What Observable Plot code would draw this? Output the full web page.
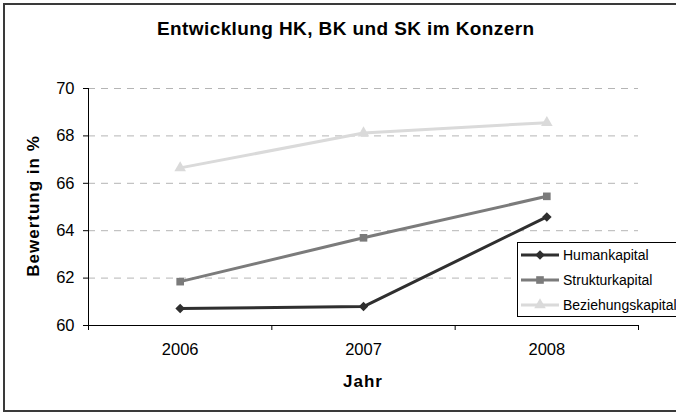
<!DOCTYPE html>
<html>
<head>
<meta charset="utf-8">
<script src="https://cdn.jsdelivr.net/npm/d3@7"></script>
<script src="https://cdn.jsdelivr.net/npm/@observablehq/plot@0.6"></script>
<style>
  html, body { margin: 0; padding: 0; background: #fff; }
  body { width: 676px; height: 412px; overflow: hidden; position: relative; font-family: "Liberation Sans", Arial, sans-serif; }
  #chart { position: absolute; left: 0; top: 0; }
  .frame { position: absolute; left: 3px; top: 3px; width: 740px; height: 409px; box-sizing: border-box; border: 2px solid #3a3a3a; pointer-events: none; }
  .title { position: absolute; left: 157px; top: 19px; font-size: 19px; font-weight: bold; white-space: nowrap; letter-spacing: 0.4px; line-height: 20px; }
  .xlabel { position: absolute; left: 0; width: 726px; top: 372px; text-align: center; font-size: 17px; font-weight: bold; letter-spacing: 1px; line-height: 20px; }
  .ylabel { position: absolute; left: 34px; top: 206px; font-size: 17px; font-weight: bold; white-space: nowrap; letter-spacing: 1px; line-height: 20px; transform: translate(-50%, -50%) rotate(-90deg); transform-origin: center; }
  .legend { position: absolute; left: 517px; top: 242px; width: 200px; height: 75px; box-sizing: border-box; border: 1px solid #000; background: #fff; }
  .legend .row { position: absolute; left: 0; height: 20px; display: flex; align-items: center; font-size: 14px; white-space: nowrap; }
  .legend .row svg { margin-left: 3px; margin-right: 4px; }
</style>
</head>
<body>
<div id="chart"></div>
<div class="frame"></div>
<div class="title">Entwicklung HK, BK und SK im Konzern</div>
<div class="ylabel">Bewertung in %</div>
<div class="xlabel">Jahr</div>
<div class="legend" id="legend"></div>
<script>
// ---- data ----
const years = [2006, 2007, 2008];
const seriesNames = ["Humankapital", "Strukturkapital", "Beziehungskapital"];
const humankapital = [60.72, 60.8, 64.58];
const strukturkapital = [61.85, 63.7, 65.45];
const beziehungskapital = [66.65, 68.12, 68.56];
const yTicks = [60, 62, 64, 66, 68, 70];
const seriesColors = ["#2f2f2f", "#7b7b7b", "#dadada"];
const seriesSymbols = ["diamond2", "square", "triangle"];

const values = [humankapital, strukturkapital, beziehungskapital];
const rows = [];
seriesNames.forEach((s, i) => years.forEach((y, j) => rows.push({series: s, year: y, value: values[i][j]})));

const boundaries = [years[0] - 0.5, ...years.map(y => y + 0.5)];

const plot = Plot.plot({
  width: 676,
  height: 412,
  marginLeft: 88,
  marginRight: 38,
  marginTop: 88,
  marginBottom: 87,
  style: {fontFamily: "Liberation Sans, Arial, sans-serif", fontSize: "16.5px", color: "#000", background: "transparent"},
  x: {type: "linear", domain: [boundaries[0], boundaries[boundaries.length - 1]]},
  y: {domain: [60, 70]},
  color: {domain: seriesNames, range: seriesColors},
  symbol: {domain: seriesNames, range: seriesSymbols},
  marks: [
    Plot.gridY(yTicks.filter(t => t > 60), {stroke: "#b5b5b5", strokeOpacity: 1, strokeDasharray: "7,6"}),
    Plot.axisY(yTicks, {tickSize: 5, tickPadding: 9, label: null, tickFormat: d => String(d)}),
    Plot.axisX(boundaries, {tickSize: 5, tickFormat: () => "", label: null}),
    Plot.axisX(years, {tickSize: 0, tickPadding: 18, tickFormat: d => String(d), label: null}),
    Plot.ruleY([60], {stroke: "#000"}),
    Plot.ruleX([boundaries[0]], {stroke: "#000"}),
    Plot.line(rows, {x: "year", y: "value", z: "series", stroke: "series", strokeWidth: 3}),
    Plot.dot(rows, {x: "year", y: "value", symbol: "series", fill: "series", stroke: "none", r: 4.3})
  ]
});
document.getElementById("chart").appendChild(plot);

// legend
const legend = document.getElementById("legend");
const symGen = {diamond2: d3.symbolDiamond2, square: d3.symbolSquare, triangle: d3.symbolTriangle};
seriesNames.forEach((s, i) => {
  const row = document.createElement("div");
  row.className = "row";
  row.style.top = (2 + i * 25) + "px";
  const svg = d3.create("svg").attr("width", 38).attr("height", 20);
  svg.append("line").attr("x1", 0).attr("x2", 38).attr("y1", 10).attr("y2", 10)
     .attr("stroke", seriesColors[i]).attr("stroke-width", 3);
  svg.append("path").attr("transform", "translate(19,10)")
     .attr("d", d3.symbol(symGen[seriesSymbols[i]], Math.PI * 4.3 * 4.3)())
     .attr("fill", seriesColors[i]);
  row.appendChild(svg.node());
  const t = document.createElement("span");
  t.textContent = s;
  row.appendChild(t);
  legend.appendChild(row);
});
</script>
</body>
</html>
